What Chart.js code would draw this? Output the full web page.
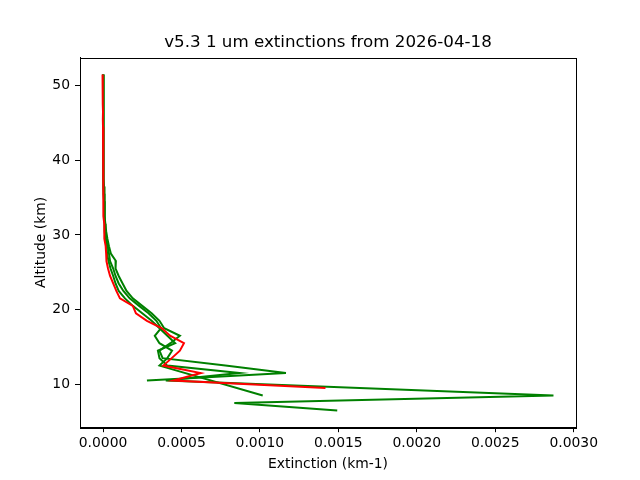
<!DOCTYPE html>
<html>
<head>
<meta charset="utf-8">
<script src="https://cdn.jsdelivr.net/npm/chart.js@4/dist/chart.umd.min.js"></script>
<style>
html,body{margin:0;padding:0;background:#fff;}
#wrap{width:640px;height:480px;}
</style>
</head>
<body>
<div id="wrap"><canvas id="c" width="640" height="480"></canvas></div>
<script>
const titleText = "v5.3 1 um extinctions from 2026-04-18";
const xLabel = "Extinction (km-1)";
const yLabel = "Altitude (km)";
const xTicks = [0, 0.0005, 0.001, 0.0015, 0.002, 0.0025, 0.003];
const yTicks = [10, 20, 30, 40, 50];

const altUpper = [51.5,50.5,49.5,48.5,47.5,46.5,45.5,44.5,43.5,42.5,41.5,40.5,39.5,38.5,37.5,36.5,35.5,34.5,33.5,32.5,31.5];

const redAlt = altUpper.concat([30.5,29.5,28.5,27.5,26.5,25.5,24.5,23.5,22.5,21.5,20.5,19.5,18.5,17.5,16.5,15.5,14.5,13.5,12.5,11.5,10.5,9.5]);
const redExt = [-0.000003,-0.000002,-0.000001,-0.000002,-0.000001,0.0,-0.000001,0.0,0.000001,0.0,0.000001,0.000001,0.000002,0.000001,0.000002,0.000002,0.000003,0.000004,0.000005,0.000006,0.000008,
  0.00001,0.000007,0.000017,0.00002,0.000022,0.000032,0.000045,0.000065,0.000085,0.000108,0.00019,0.00021,0.00028,0.000376,0.000427,0.000516,0.00049,0.000438,0.000384,0.000623,0.000448,0.001418];

const greenAAlt = altUpper.concat([30.5,29.5,28.5,27.5,26.5,25.5,24.5,23.5,22.5,21.5,20.5,19.5,18.5,17.5,16.5,15.5,14.5,13.5,12.5,11.5,10.5]);
const greenAExt = [0.000001,0.000002,0.000001,0.000002,0.000002,0.000001,0.000002,0.000003,0.000002,0.000003,0.000003,0.000004,0.000004,0.000005,0.000006,0.000007,0.000008,0.000009,0.00001,0.000012,0.000015,
  0.00002,0.000028,0.000038,0.00005,0.000082,0.00008,0.0001,0.000125,0.00015,0.00019,0.00025,0.00031,0.00036,0.00039,0.00049,0.00043,0.00036,0.00038,0.00078,0.001166,0.00028];

const greenBAlt = altUpper.concat([30.5,29.5,28.5,27.5,26.5,25.5,24.5,23.5,22.5,21.5,20.5,19.5,18.5,17.5,16.5,15.5,14.5,13.5,12.5,8.5]);
const greenBExt = [0.0,0.000001,0.000002,0.000001,0.000001,0.000002,0.000002,0.000002,0.000003,0.000002,0.000003,0.000003,0.000004,0.000005,0.000005,0.000006,0.000007,0.000008,0.000009,0.000011,0.000013,
  0.000016,0.00002,0.00003,0.000038,0.000045,0.000065,0.00008,0.0001,0.00013,0.00017,0.00023,0.00029,0.00034,0.00037,0.00033,0.00036,0.00044,0.00041,0.00036,0.001018];

const greenCAlt = altUpper.concat([30.5,29.5,28.5,27.5,26.5,25.5,24.5,23.5,22.5,21.5,20.5,19.5,18.5,17.5,16.5,15.5,14.5,13.5,12.5,11.5,10.5,8.5,7.5,6.5]);
const greenCExt = [0.000001,0.000001,0.000001,0.000002,0.000001,0.000002,0.000001,0.000002,0.000002,0.000003,0.000002,0.000003,0.000004,0.000004,0.000005,0.000006,0.000006,0.000007,0.000008,0.00001,0.000012,
  0.000012,0.000016,0.000022,0.000026,0.000035,0.000048,0.000065,0.00008,0.0001,0.00014,0.00019,0.00025,0.00031,0.00036,0.00041,0.00046,0.00035,0.00036,0.00041,0.00087,0.0004,0.002871,0.000837,0.001493];

function pts(xs, ys){ return xs.map((v,i)=>({x:v, y:ys[i]})); }

const FONT = "'DejaVu Sans', sans-serif";

const decor = {
  id: 'decor',
  afterDraw(chart){
    const ctx = chart.ctx, a = chart.chartArea;
    ctx.save();
    ctx.strokeStyle = '#000';
    ctx.lineWidth = 1;
    ctx.strokeRect(Math.round(a.left)+0.5, Math.round(a.top)+0.5, Math.round(a.right-a.left), Math.round(a.bottom-a.top));
    ctx.fillStyle = '#000';
    ctx.textAlign = 'center';
    ctx.textBaseline = 'middle';
    ctx.font = "16.7px " + FONT;
    ctx.fillText(titleText, (a.left+a.right)/2, 43);
    ctx.font = "13.9px " + FONT;
    ctx.fillText(xLabel, (a.left+a.right)/2, 464);
    ctx.translate(41, (a.top+a.bottom)/2);
    ctx.rotate(-Math.PI/2);
    ctx.fillText(yLabel, 0, 0);
    ctx.restore();
  }
};

const ds = (data, color, order) => ({
  data: data, showLine: true, borderColor: color, backgroundColor: color,
  borderWidth: 2, pointRadius: 0, pointHoverRadius: 0, fill: false, tension: 0, order: order
});

new Chart(document.getElementById('c'), {
  type: 'scatter',
  data: {
    datasets: [
      ds(pts(redExt, redAlt), '#ff0000', 0),
      ds(pts(greenAExt, greenAAlt), '#008000', 1),
      ds(pts(greenBExt, greenBAlt), '#008000', 2),
      ds(pts(greenCExt, greenCAlt), '#008000', 3)
    ]
  },
  options: {
    responsive: false,
    animation: false,
    devicePixelRatio: 1,
    layout: { padding: { left: 0, right: 64, top: 57.6, bottom: 0 } },
    plugins: { legend: { display: false }, tooltip: { enabled: false }, title: { display: false } },
    scales: {
      x: {
        type: 'linear', min: -0.0001466, max: 0.0030147,
        afterFit(s){ s.height = 52.8; },
        afterBuildTicks(s){ s.ticks = xTicks.map(v=>({value:v})); },
        ticks: { color: '#000', font: { family: FONT, size: 13.9 }, padding: 3,
                 callback: v => Number(v).toFixed(4), maxRotation: 0, autoSkip: false },
        grid: { drawOnChartArea: false, drawTicks: true, tickLength: 5, color: '#000' },
        border: { display: true, color: '#000' }
      },
      y: {
        type: 'linear', min: 4.25, max: 53.75,
        afterFit(s){ s.width = 80; },
        afterBuildTicks(s){ s.ticks = yTicks.map(v=>({value:v})); },
        ticks: { color: '#000', font: { family: FONT, size: 13.9 }, padding: 5, autoSkip: false },
        grid: { drawOnChartArea: false, drawTicks: true, tickLength: 5, color: '#000' },
        border: { display: true, color: '#000' }
      }
    }
  },
  plugins: [decor]
});
</script>
</body>
</html>
